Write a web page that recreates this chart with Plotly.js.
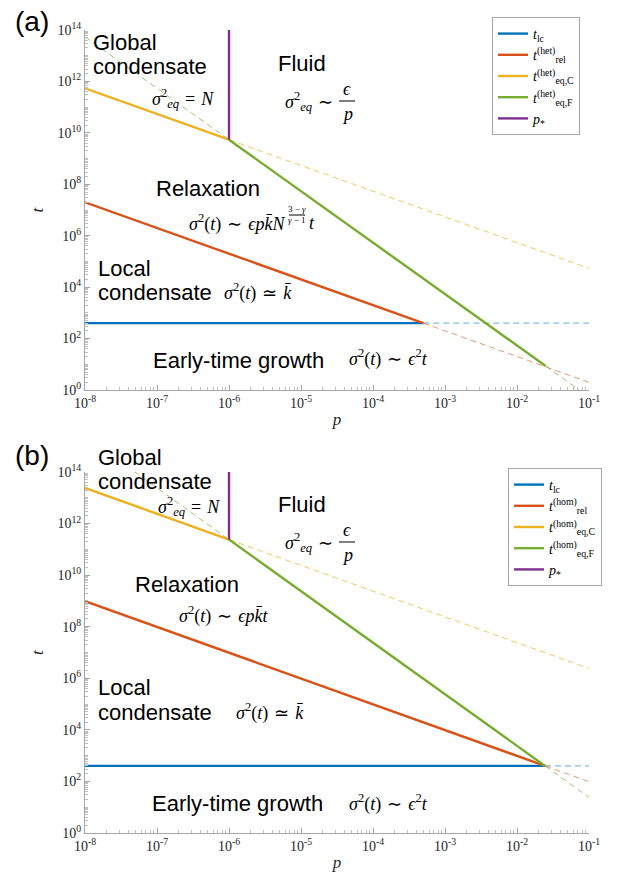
<!DOCTYPE html>
<html><head><meta charset="utf-8">
<script src="https://cdn.plot.ly/plotly-3.0.1.min.js"></script>
<style>body{margin:0;background:#fff}#chart{width:621px;height:884px}</style>
</head><body><div id="chart"></div>
<script>
// ---------- data: panel (a) heterogeneous ----------
const pA_lc = [1e-8, 5.0e-4],   tA_lc = [400, 400];
const pA_lcExt = [5.0e-4, 1e-1], tA_lcExt = [400, 400];
const pA_rel = [1e-8, 5.0e-4],  tA_rel = [2.0e7, 400];
const pA_relExt = [5.0e-4, 1e-1], tA_relExt = [400, 2.0];
const pA_eqC = [1e-8, 1e-6],    tA_eqC = [5.4e11, 5.4e9];
const pA_eqCExt = [1e-6, 1e-1], tA_eqCExt = [5.4e9, 5.4e4];
const pA_eqF = [1e-6, 2.5e-2],  tA_eqF = [5.4e9, 8.6];
const pA_eqFExtL = [1e-8, 1e-6], tA_eqFExtL = [5.4e13, 5.4e9];
const pA_eqFExtR = [2.5e-2, 7.3e-2], tA_eqFExtR = [8.6, 1.0];
const pA_star = [1e-6, 1e-6],   tA_star = [5.4e9, 1e14];

// ---------- data: panel (b) homogeneous ----------
const pB_lc = [1e-8, 2.45e-2],  tB_lc = [400, 400];
const pB_lcExt = [2.45e-2, 1e-1], tB_lcExt = [400, 400];
const pB_rel = [1e-8, 2.45e-2], tB_rel = [9.8e8, 400];
const pB_relExt = [2.45e-2, 1e-1], tB_relExt = [400, 98];
const pB_eqC = [1e-8, 1e-6],    tB_eqC = [2.4e13, 2.4e11];
const pB_eqCExt = [1e-6, 1e-1], tB_eqCExt = [2.4e11, 2.4e6];
const pB_eqF = [1e-6, 2.45e-2], tB_eqF = [2.4e11, 400];
const pB_eqFExtL = [1e-8, 1e-6], tB_eqFExtL = [2.4e15, 2.4e11];
const pB_eqFExtR = [2.45e-2, 1e-1], tB_eqFExtR = [400, 24];
const pB_star = [1e-6, 1e-6],   tB_star = [2.4e11, 1e14];

// ---------- ticks ----------
const xTickVals = [1e-8, 1e-7, 1e-6, 1e-5, 1e-4, 1e-3, 1e-2, 1e-1];
const xTickText = ['10<sup>-8</sup>','10<sup>-7</sup>','10<sup>-6</sup>','10<sup>-5</sup>','10<sup>-4</sup>','10<sup>-3</sup>','10<sup>-2</sup>','10<sup>-1</sup>'];
const yTickVals = [1e0, 1e2, 1e4, 1e6, 1e8, 1e10, 1e12, 1e14];
const yTickText = ['10<sup>0</sup>','10<sup>2</sup>','10<sup>4</sup>','10<sup>6</sup>','10<sup>8</sup>','10<sup>10</sup>','10<sup>12</sup>','10<sup>14</sup>'];

const namesA = ['<i>t</i><sub>lc</sub>','<i>t</i><sup>(het)</sup><sub>rel</sub>','<i>t</i><sup>(het)</sup><sub>eq,C</sub>','<i>t</i><sup>(het)</sup><sub>eq,F</sub>','<i>p</i><sub>*</sub>'];
const namesB = ['<i>t</i><sub>lc</sub>','<i>t</i><sup>(hom)</sup><sub>rel</sub>','<i>t</i><sup>(hom)</sup><sub>eq,C</sub>','<i>t</i><sup>(hom)</sup><sub>eq,F</sub>','<i>p</i><sub>*</sub>'];

const C = {blue:'#0072BD', red:'#D95319', yellow:'#EDB120', green:'#77AC30', purple:'#7E2F8E'};
const CD = {blue:'rgba(0,114,189,0.6)', red:'rgba(217,83,25,0.6)', yellow:'rgba(237,177,32,0.7)', green:'rgba(119,172,48,0.7)'};

function dashed(x, y, col, xa, ya){
  return {x, y, xaxis:xa, yaxis:ya, mode:'lines', showlegend:false, hoverinfo:'skip',
          line:{color:col, width:1, dash:'6px,4px'}};
}
function solid(x, y, col, name, xa, ya, lg){
  return {x, y, xaxis:xa, yaxis:ya, mode:'lines', name, legend:lg,
          line:{color:col, width:2.4}};
}

const traces = [
  dashed(pA_lcExt, tA_lcExt, CD.blue, 'x','y'),
  dashed(pA_relExt, tA_relExt, CD.red, 'x','y'),
  dashed(pA_eqCExt, tA_eqCExt, CD.yellow, 'x','y'),
  dashed(pA_eqFExtL, tA_eqFExtL, CD.green, 'x','y'),
  dashed(pA_eqFExtR, tA_eqFExtR, CD.green, 'x','y'),
  solid(pA_lc, tA_lc, C.blue, namesA[0], 'x','y','legend'),
  solid(pA_rel, tA_rel, C.red, namesA[1], 'x','y','legend'),
  solid(pA_eqC, tA_eqC, C.yellow, namesA[2], 'x','y','legend'),
  solid(pA_eqF, tA_eqF, C.green, namesA[3], 'x','y','legend'),
  solid(pA_star, tA_star, C.purple, namesA[4], 'x','y','legend'),

  dashed(pB_lcExt, tB_lcExt, CD.blue, 'x2','y2'),
  dashed(pB_relExt, tB_relExt, CD.red, 'x2','y2'),
  dashed(pB_eqCExt, tB_eqCExt, CD.yellow, 'x2','y2'),
  dashed(pB_eqFExtL, tB_eqFExtL, CD.green, 'x2','y2'),
  dashed(pB_eqFExtR, tB_eqFExtR, CD.green, 'x2','y2'),
  solid(pB_lc, tB_lc, C.blue, namesB[0], 'x2','y2','legend2'),
  solid(pB_rel, tB_rel, C.red, namesB[1], 'x2','y2','legend2'),
  solid(pB_eqC, tB_eqC, C.yellow, namesB[2], 'x2','y2','legend2'),
  solid(pB_eqF, tB_eqF, C.green, namesB[3], 'x2','y2','legend2'),
  solid(pB_star, tB_star, C.purple, namesB[4], 'x2','y2','legend2')
];

// ---------- layout helpers (pixel -> paper) ----------
const L = 85, R = 32, T = 30, B = 51, W = 621, H = 884;
const PW = W - L - R, PH = H - T - B;
const px = v => (v - L) / PW;
const py = v => (H - B - v) / PH;
const SANS = 'Liberation Sans, Arial, sans-serif';
const SERIF = 'Liberation Serif, Times New Roman, serif';

function ann(x, y, text, o = {}){
  return {xref:'paper', yref:'paper', x:px(x), y:py(y), text, showarrow:false,
          xanchor:o.xa || 'left', yanchor:'middle',
          font:{family:o.fam || SANS, size:o.size || 22, color:'#000'}};
}
function hline(x0, x1, y){
  return {type:'line', xref:'paper', yref:'paper', x0:px(x0), x1:px(x1), y0:py(y), y1:py(y),
          line:{color:'#000', width:1}};
}

const sp = '\u2004';
const s2 = '<i>σ</i><sup>2</sup>';
const s2eq = '<i>σ</i><sup>2</sup><sub><i>eq</i></sub>';
const s2t = s2 + '(<i>t</i>)';
const kb = 'k\u0304';

const M = {fam:SERIF, size:18};
const annotations = [
  ann(13, 22, '(a)', {size:28}),
  ann(13, 455, '(b)', {size:28}),
  // panel a
  ann(91, 43, 'Global'), ann(91, 67, 'condensate'),
  ann(150, 98, s2eq + sp + '=' + sp + '<i>N</i>', M),
  ann(276, 63, 'Fluid'),
  ann(335, 101, s2eq + sp + '∼', {fam:SERIF, size:18, xa:'right'}),
  ann(347, 89, '<i>ϵ</i>', {fam:SERIF, size:18, xa:'center'}),
  ann(347, 114, '<i>p</i>', {fam:SERIF, size:18, xa:'center'}),
  ann(154, 188, 'Relaxation'),
  ann(287, 223, s2t + sp + '∼' + sp + '<i>ϵp' + kb + 'N</i>', {fam:SERIF, size:18, xa:'right'}),
  ann(297, 209, '3 − <i>γ</i>', {fam:SERIF, size:9, xa:'center'}),
  ann(297, 220, '<i>γ</i> − 1', {fam:SERIF, size:9, xa:'center'}),
  ann(307, 223, '<i>t</i>', M),
  ann(96, 268, 'Local'), ann(96, 292, 'condensate'),
  ann(222, 292, s2t + sp + '≃' + sp + '<i>' + kb + '</i>', M),
  ann(151, 360, 'Early-time growth'),
  ann(347, 358, s2t + sp + '∼' + sp + '<i>ϵ</i><sup>2</sup><i>t</i>', M),
  // panel b
  ann(96, 457, 'Global'), ann(96, 481, 'condensate'),
  ann(156, 507, s2eq + sp + '=' + sp + '<i>N</i>', M),
  ann(276, 505, 'Fluid'),
  ann(335, 542, s2eq + sp + '∼', {fam:SERIF, size:18, xa:'right'}),
  ann(347, 530, '<i>ϵ</i>', {fam:SERIF, size:18, xa:'center'}),
  ann(347, 555, '<i>p</i>', {fam:SERIF, size:18, xa:'center'}),
  ann(133, 584, 'Relaxation'),
  ann(177, 615, s2t + sp + '∼' + sp + '<i>ϵp' + kb + 't</i>', M),
  ann(96, 687, 'Local'), ann(96, 712, 'condensate'),
  ann(234, 712, s2t + sp + '≃' + sp + '<i>' + kb + '</i>', M),
  ann(150, 803, 'Early-time growth'),
  ann(347, 803, s2t + sp + '∼' + sp + '<i>ϵ</i><sup>2</sup><i>t</i>', M)
];
const shapes = [hline(339, 355, 101), hline(289, 305, 215), hline(339, 355, 542)];

const AX = '#a6a6a6';
function xax(anchor){
  return {type:'log', range:[-8,-1], anchor, domain:[0,1],
    tickvals:xTickVals, ticktext:xTickText, ticks:'inside', ticklen:5, tickcolor:AX,
    showline:true, linecolor:AX, linewidth:1, showgrid:false, zeroline:false,
    tickfont:{family:SERIF, size:14, color:'#262626'},
    minor:{dtick:'D1', ticks:'inside', ticklen:3, tickcolor:'#c0c0c0', showgrid:false},
    title:{text:'<i>p</i>', font:{family:SERIF, size:17, color:'#262626'}, standoff:3}};
}
function yax(anchor, dom){
  return {type:'log', range:[0,14], anchor, domain:dom,
    tickvals:yTickVals, ticktext:yTickText, ticks:'inside', ticklen:5, tickcolor:AX,
    showline:true, linecolor:AX, linewidth:1, showgrid:false, zeroline:false,
    tickfont:{family:SERIF, size:14, color:'#262626'},
    minor:{dtick:'D1', ticks:'inside', ticklen:3, tickcolor:'#c0c0c0', showgrid:false},
    title:{text:'<i>t</i>', font:{family:SERIF, size:17, color:'#262626'}, standoff:9}};
}
function leg(x, y){
  return {x, y, xanchor:'right', yanchor:'top', bgcolor:'#fff', bordercolor:AX, borderwidth:1,
    font:{family:SERIF, size:14, color:'#000'}, tracegroupgap:0, itemwidth:30};
}

const layout = {
  width:W, height:H, margin:{l:L, r:R, t:T, b:B},
  paper_bgcolor:'#fff', plot_bgcolor:'#fff', showlegend:true,
  xaxis:xax('y'), yaxis:yax('x', [py(390), 1]),
  xaxis2:xax('y2'), yaxis2:yax('x2', [0, py(472)]),
  legend:leg(px(580), py(17)),
  legend2:leg(px(602), py(468)),
  annotations, shapes
};

Plotly.newPlot('chart', traces, layout, {displayModeBar:false, staticPlot:true});
</script>
</body></html>
